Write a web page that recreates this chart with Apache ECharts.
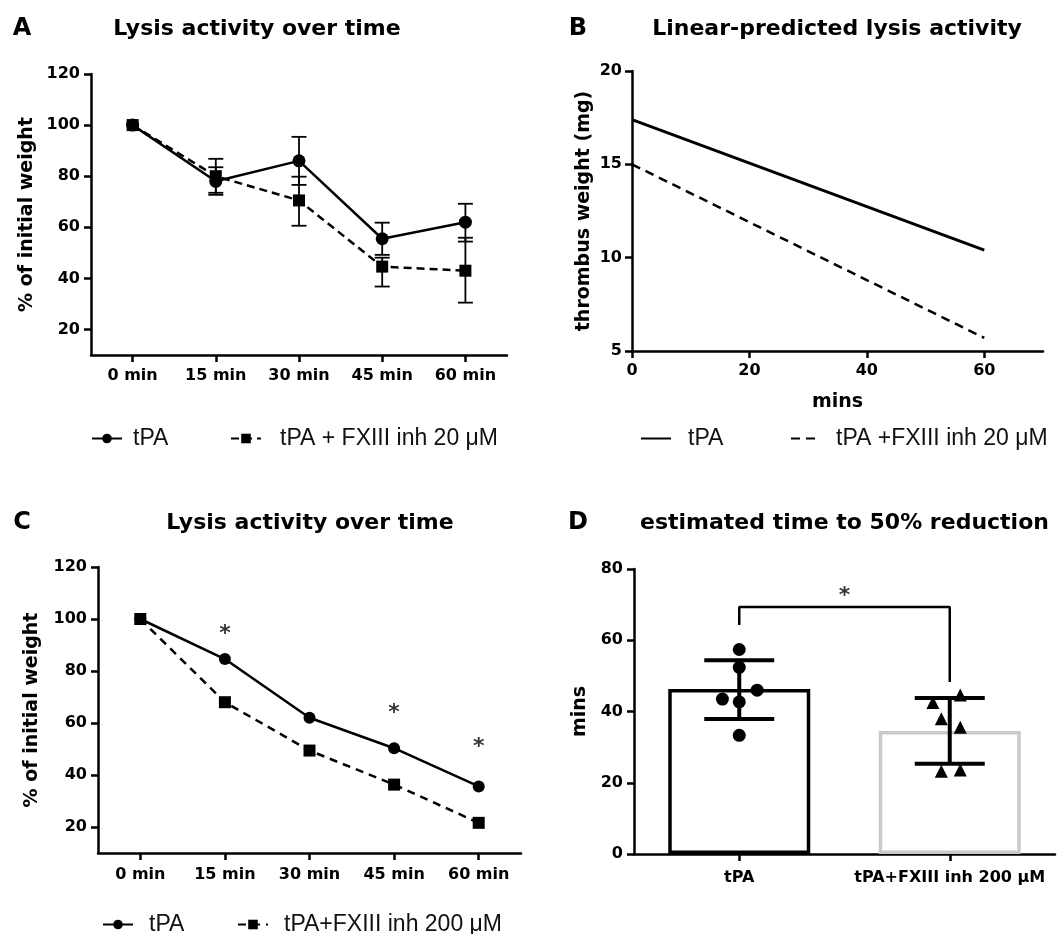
<!DOCTYPE html>
<html lang="en">
<head>
    <meta charset="UTF-8">
    <title>Lysis activity</title>
    <script src="https://cdn.jsdelivr.net/npm/echarts@6.0.0/dist/echarts.min.js"></script>
    <style>
        body { margin: 0; background: #fff; }
    </style>
</head>
<body>
    <div id="main" style="width: 1064px;height:934px;"></div>
    <script type="text/javascript">
        // time points used by panels A and C
        var timeLabels = ['0 min', '15 min', '30 min', '45 min', '60 min'];
        var pctTicks = [20, 40, 60, 80, 100, 120];

        // A: 20 uM inhibitor, mean and error bar ends
        var aTpa = [100, 78, 86, 55.5, 62];
        var aTpaLow = [null, 72.7, 76.6, 49.2, 54.4];
        var aTpaHigh = [null, 86.8, 95.4, 61.8, 69.2];
        var aFx = [100, 80, 70.5, 44.6, 43];
        var aFxLow = [null, 73.5, 60.6, 36.8, 30.5];
        var aFxHigh = [null, 83.5, 79.8, 48.1, 55.9];

        // B: linear predictions
        var bMins = [0, 60];
        var bMinTicks = [0, 20, 40, 60];
        var bTpa = [17.4, 10.4];
        var bFx = [15.0, 5.7];

        // C: 200 uM inhibitor
        var cTpa = [100, 84.6, 62, 50.3, 35.6];
        var cFx = [100, 68, 49.4, 36.3, 21.6];
        var cStarAt = [1, 3, 4];
        var cStarY = [96, 65.5, 52.5];

        // D: time to 50% reduction
        var dGroups = ['tPA', 'tPA+FXIII inh 200 μM'];
        var dMean = [46.3, 34.5];
        var dLow = [37.9, 25.3];
        var dHigh = [54.4, 43.8];
        var dTpaPts = [[0, 57.4], [0, 52.4], [0.085, 46], [-0.08, 43.5], [0, 42.7], [0, 33.3]];
        var dFxPts = [[0.92, 42.5], [0.96, 38], [0.96, 23.2], [1.05, 44.6], [1.05, 35.6], [1.05, 23.6]];
        var dBracket = [[0, 64.3], [0, 69.3], [1, 69.3], [1, 48.3]];
        var dStar = [0.5, 73.8];

        var boldFont = 'DejaVu Sans';
        var axLine = { show: true, onZero: false, lineStyle: { color: '#000', width: 2.5 } };

        function ticks(extra) {
            var t = { show: true, length: 7, lineStyle: { color: '#000', width: 2.5 } };
            for (var k in extra) t[k] = extra[k];
            return t;
        }
        function labels(margin, extra) {
            var l = { fontFamily: boldFont, fontWeight: 'bold', fontSize: 16, color: '#000', margin: margin };
            for (var k in extra) l[k] = extra[k];
            return l;
        }
        var nameStyle = { fontFamily: boldFont, fontWeight: 'bold', fontSize: 19, color: '#000' };
        var titleStyle = { fontFamily: boldFont, fontWeight: 'bold', fontSize: 22, color: '#000' };
        var letterStyle = { fontFamily: boldFont, fontWeight: 'bold', fontSize: 24, color: '#000' };

        function titleAt(text, x, y, style, align) {
            return { text: text, left: x, top: y, padding: 0, textAlign: align || 'center',
                textVerticalAlign: 'middle', textStyle: style };
        }
        function legendAt(name, x, y, gap, noMark) {
            var lg = { data: [name], left: x, top: y, padding: 0, itemWidth: 30, itemHeight: 12,
                selectedMode: false,
                textStyle: { fontFamily: 'Liberation Sans', fontSize: 23, color: '#111', padding: [0, 0, 0, gap] } };
            if (noMark) lg.itemStyle = { opacity: 0 };
            return lg;
        }
        function pairs(xs, ys) {
            return xs.map(function (x, i) { return [x, ys[i]]; });
        }
        function errRows(low, high) {
            var rows = [];
            for (var i = 0; i < low.length; i++) {
                if (low[i] != null) rows.push([i, low[i], high[i]]);
            }
            return rows;
        }
        function errBars(capW, lw) {
            return function (params, api) {
                var hi = api.coord([api.value(0), api.value(2)]);
                var lo = api.coord([api.value(0), api.value(1)]);
                var h = capW / 2;
                var st = { stroke: '#000', lineWidth: lw };
                return { type: 'group', children: [
                    { type: 'line', shape: { x1: lo[0], y1: lo[1], x2: hi[0], y2: hi[1] }, style: st },
                    { type: 'line', shape: { x1: hi[0] - h, y1: hi[1], x2: hi[0] + h, y2: hi[1] }, style: st },
                    { type: 'line', shape: { x1: lo[0] - h, y1: lo[1], x2: lo[0] + h, y2: lo[1] }, style: st }
                ] };
            };
        }
        function lineSeries(name, xi, data, symbol, size, dashed, width) {
            return {
                name: name, type: 'line', xAxisIndex: xi, yAxisIndex: xi, data: data,
                symbol: symbol, symbolSize: size, showSymbol: symbol !== 'none',
                lineStyle: { color: '#000', width: width || 2.5, type: dashed || 'solid' },
                itemStyle: { color: '#000' }, z: 3
            };
        }
        function starSeries(xi, yi, data) {
            return {
                type: 'scatter', xAxisIndex: xi, yAxisIndex: yi, data: data, symbolSize: 1,
                itemStyle: { color: 'rgba(0,0,0,0)' },
                label: { show: true, position: 'inside', formatter: '*', offset: [0, 5],
                    fontFamily: boldFont, fontWeight: 'bold', fontSize: 22, color: '#000' }
            };
        }

        var myChart = echarts.init(document.getElementById('main'));
        var option = {
            animation: false,
            backgroundColor: '#fff',
            title: [
                titleAt('A', 22, 29, letterStyle),
                titleAt('Lysis activity over time', 257, 29, titleStyle),
                titleAt('B', 578, 29, letterStyle),
                titleAt('Linear-predicted lysis activity', 837, 29, titleStyle),
                titleAt('C', 22, 523, letterStyle),
                titleAt('Lysis activity over time', 310, 523, titleStyle),
                titleAt('D', 578, 523, letterStyle),
                titleAt('estimated time to 50% reduction', 640, 523, titleStyle, 'left')
            ],
            legend: [
                legendAt('tPA', 91, 427, 6),
                legendAt('tPA + FXIII inh 20 μM', 230, 427, 14),
                legendAt('tPA', 640, 427, 12, true),
                legendAt('tPA +FXIII inh 20 μM', 790, 427, 10, true),
                legendAt('tPA', 102, 913, 11),
                legendAt('tPA+FXIII inh 200 μM', 237, 913, 11)
            ],
            grid: [
                { left: 91, top: 74, width: 416, height: 281, outerBoundsMode: 'none' },
                { left: 632, top: 71, width: 411, height: 280, outerBoundsMode: 'none' },
                { left: 98, top: 567, width: 423, height: 286, outerBoundsMode: 'none' },
                { left: 634, top: 569, width: 421, height: 285, outerBoundsMode: 'none' }
            ],
            xAxis: [
                { type: 'category', gridIndex: 0, data: timeLabels, axisLine: axLine,
                    axisTick: ticks({ alignWithLabel: true }), axisLabel: labels(13, { interval: 0 }) },
                { type: 'value', gridIndex: 1, min: 0, max: 70, interval: 20, axisLine: axLine,
                    axisTick: ticks({ customValues: bMinTicks }), axisLabel: labels(12, { customValues: bMinTicks }),
                    splitLine: { show: false }, name: 'mins', nameLocation: 'middle', nameGap: 42,
                    nameTextStyle: nameStyle },
                { type: 'category', gridIndex: 2, data: timeLabels, axisLine: axLine,
                    axisTick: ticks({ alignWithLabel: true }), axisLabel: labels(14, { interval: 0 }) },
                { type: 'category', gridIndex: 3, data: dGroups, axisLine: axLine,
                    axisTick: ticks({ alignWithLabel: true }),
                    axisLabel: labels(16, { interval: 0, hideOverlap: false }) },
                { type: 'value', gridIndex: 3, min: -0.5, max: 1.5, show: false }
            ],
            yAxis: [
                { type: 'value', gridIndex: 0, min: 10, max: 120, axisLine: axLine,
                    axisTick: ticks({ customValues: pctTicks }), axisLabel: labels(11, { customValues: pctTicks }),
                    splitLine: { show: false }, name: '% of initial weight', nameLocation: 'middle',
                    nameGap: 54, nameTextStyle: nameStyle },
                { type: 'value', gridIndex: 1, min: 5, max: 20, interval: 5, axisLine: axLine,
                    axisTick: ticks(), axisLabel: labels(10), splitLine: { show: false },
                    name: 'thrombus weight (mg)', nameLocation: 'middle', nameGap: 38, nameTextStyle: nameStyle },
                { type: 'value', gridIndex: 2, min: 10, max: 120, axisLine: axLine,
                    axisTick: ticks({ customValues: pctTicks }), axisLabel: labels(11, { customValues: pctTicks }),
                    splitLine: { show: false }, name: '% of initial weight', nameLocation: 'middle',
                    nameGap: 56, nameTextStyle: nameStyle },
                { type: 'value', gridIndex: 3, min: 0, max: 80, interval: 20, axisLine: axLine,
                    axisTick: ticks(), axisLabel: labels(11), splitLine: { show: false },
                    name: 'mins', nameLocation: 'middle', nameGap: 44, nameTextStyle: nameStyle }
            ],
            series: [
                // A
                lineSeries('tPA', 0, aTpa, 'circle', 13),
                lineSeries('tPA + FXIII inh 20 μM', 0, aFx, 'rect', 12, [8, 5]),
                { type: 'custom', xAxisIndex: 0, yAxisIndex: 0, renderItem: errBars(15, 1.8),
                    data: errRows(aTpaLow, aTpaHigh), encode: { x: 0, y: [1, 2] }, z: 2 },
                { type: 'custom', xAxisIndex: 0, yAxisIndex: 0, renderItem: errBars(15, 1.8),
                    data: errRows(aFxLow, aFxHigh), encode: { x: 0, y: [1, 2] }, z: 2 },
                // B
                lineSeries('tPA', 1, pairs(bMins, bTpa), 'none', 0, null, 3),
                lineSeries('tPA +FXIII inh 20 μM', 1, pairs(bMins, bFx), 'none', 0, [9, 6], 2.5),
                // C
                lineSeries('tPA', 2, cTpa, 'circle', 12),
                lineSeries('tPA+FXIII inh 200 μM', 2, cFx, 'rect', 12, [8, 6]),
                starSeries(2, 2, pairs(cStarAt, cStarY)),
                // D
                { type: 'bar', xAxisIndex: 3, yAxisIndex: 3, barWidth: 142, z: 1,
                    data: dMean.map(function (v, i) {
                        return { value: v, itemStyle: { color: '#fff', borderWidth: 3.5,
                            borderColor: i === 0 ? '#000' : '#c9c9c9' } };
                    }) },
                { type: 'custom', xAxisIndex: 3, yAxisIndex: 3, renderItem: errBars(70, 4),
                    data: errRows(dLow, dHigh), encode: { x: 0, y: [1, 2] }, z: 2 },
                { type: 'scatter', xAxisIndex: 4, yAxisIndex: 3, data: dTpaPts, symbol: 'circle',
                    symbolSize: 13, itemStyle: { color: '#000', opacity: 1 }, z: 3 },
                { type: 'scatter', xAxisIndex: 4, yAxisIndex: 3, data: dFxPts, symbol: 'triangle',
                    symbolSize: 13, itemStyle: { color: '#000', opacity: 1 }, z: 3 },
                { type: 'line', xAxisIndex: 4, yAxisIndex: 3, data: dBracket, symbol: 'none',
                    lineStyle: { color: '#000', width: 2.5 }, z: 3 },
                starSeries(4, 3, [dStar])
            ]
        };
        myChart.setOption(option);
    </script>
</body>
</html>
